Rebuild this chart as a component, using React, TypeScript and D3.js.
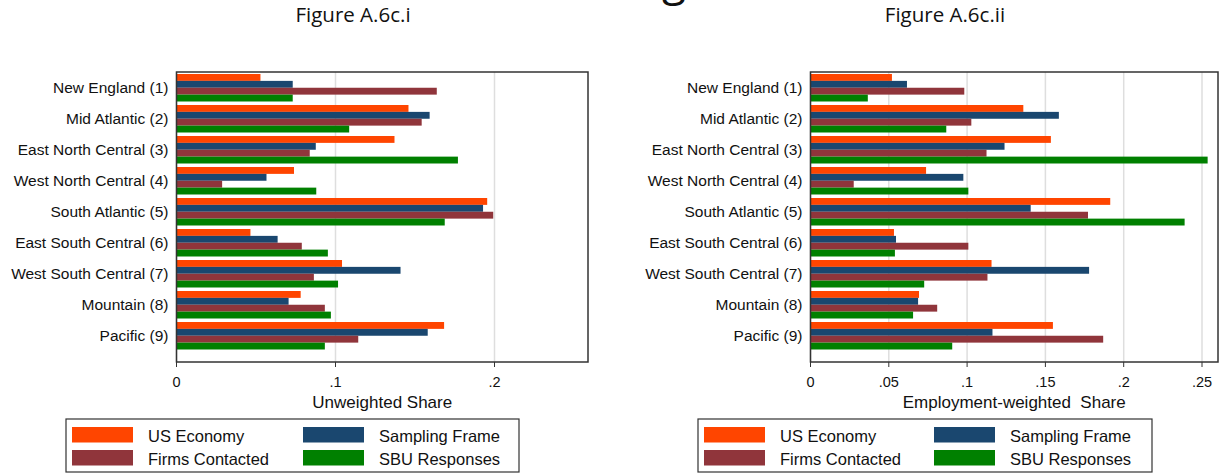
import React from "react";
import * as d3 from "d3";

const categories = [
  "New England (1)",
  "Mid Atlantic (2)",
  "East North Central (3)",
  "West North Central (4)",
  "South Atlantic (5)",
  "East South Central (6)",
  "West South Central (7)",
  "Mountain (8)",
  "Pacific (9)",
];
const seriesNames = ["US Economy", "Sampling Frame", "Firms Contacted", "SBU Responses"];
const seriesColors = ["#ff4500", "#1a476f", "#90353b", "#008000"];

// Unweighted share (left panel)
const unwUS = [0.0528, 0.1459, 0.1371, 0.0739, 0.1954, 0.0465, 0.1041, 0.0781, 0.1683];
const unwFrame = [0.0731, 0.1592, 0.0876, 0.0566, 0.1928, 0.0636, 0.1409, 0.0705, 0.158];
const unwContacted = [0.1637, 0.1542, 0.0838, 0.0287, 0.1992, 0.0788, 0.0864, 0.0933, 0.1143];
const unwSBU = [0.0731, 0.1086, 0.177, 0.0879, 0.1687, 0.0952, 0.1016, 0.0971, 0.0933];

// Employment-weighted share (right panel)
const empUS = [0.052, 0.1359, 0.1535, 0.0738, 0.1914, 0.0533, 0.1156, 0.0693, 0.1548];
const empFrame = [0.0616, 0.1586, 0.1239, 0.0976, 0.1406, 0.0546, 0.1779, 0.0687, 0.1162];
const empContacted = [0.0982, 0.1027, 0.1124, 0.0276, 0.1772, 0.1008, 0.113, 0.0809, 0.1869];
const empSBU = [0.0366, 0.0867, 0.2536, 0.1008, 0.2389, 0.0539, 0.0726, 0.0655, 0.0905];

const leftTicks = [0, 0.1, 0.2];
const leftTickLabels = ["0", ".1", ".2"];
const rightTicks = [0, 0.05, 0.1, 0.15, 0.2, 0.25];
const rightTickLabels = ["0", ".05", ".1", ".15", ".2", ".25"];

const FONT = "'Liberation Sans', Arial, sans-serif";

type PanelProps = {
  x0: number;
  x1: number;
  xMax: number;
  series: number[][];
  ticks: number[];
  tickLabels: string[];
  title: string;
  titleX: number;
  axisTitle: string;
  legendX: number;
  legendW: number;
  legendCol2: number;
};

function Panel(p: PanelProps) {
  const top = 72;
  const bottom = 362;
  const x = d3.scaleLinear().domain([0, p.xMax]).range([p.x0, p.x1]);
  const pi = 0.113;
  const y = d3
    .scaleBand<string>()
    .domain(categories)
    .range([72.25, 351.25])
    .paddingInner(pi)
    .paddingOuter(pi / 2);
  const inner = d3
    .scaleBand<string>()
    .domain(seriesNames)
    .range([0, y.bandwidth()])
    .padding(0);
  const cx = (p.x0 + p.x1) / 2;
  const ly = 419;
  return (
    <g>
      <text x={p.titleX} y={22} fontSize={20.5} fontFamily="'Open Sans', sans-serif" textAnchor="middle" fill="#111">
        {p.title}
      </text>
      {p.ticks.map((t, i) => (
        <line key={"g" + i} x1={x(t)} x2={x(t)} y1={top} y2={bottom} stroke="#dedede" strokeWidth={1.5} />
      ))}
      {categories.map((c, ci) =>
        p.series.map((s, si) => (
          <rect
            key={c + si}
            x={x(0)}
            y={(y(c) as number) + (inner(seriesNames[si]) as number)}
            width={x(s[ci]) - x(0)}
            height={inner.bandwidth()}
            fill={seriesColors[si]}
          />
        ))
      )}
      <rect x={p.x0} y={top} width={p.x1 - p.x0} height={bottom - top} fill="none" stroke="#333" strokeWidth={1.5} />
      {categories.map((c) => (
        <text
          key={"l" + c}
          x={p.x0 - 8}
          y={(y(c) as number) + y.bandwidth() / 2}
          dy="0.36em"
          textAnchor="end"
          fontSize={15.5}
          fontFamily={FONT}
          fill="#111"
        >
          {c}
        </text>
      ))}
      {p.ticks.map((t, i) => (
        <g key={"t" + i}>
          <line x1={x(t)} x2={x(t)} y1={bottom} y2={bottom + 5} stroke="#333" strokeWidth={1} />
          <text x={x(t)} y={387} textAnchor="middle" fontSize={14.5} fontFamily={FONT} fill="#111">
            {p.tickLabels[i]}
          </text>
        </g>
      ))}
      <text x={cx} y={408} textAnchor="middle" fontSize={17} fontFamily={FONT} fill="#111" style={{ whiteSpace: "pre" }}>
        {p.axisTitle}
      </text>
      <rect x={p.legendX} y={ly} width={p.legendW} height={53} fill="#fff" stroke="#333" strokeWidth={1.2} />
      {seriesNames.map((n, i) => {
        const col = i === 0 || i === 2 ? 0 : 1;
        const row = i < 2 ? 0 : 1;
        const sx = p.legendX + 6 + col * p.legendCol2;
        const sy = ly + 8 + row * 23;
        return (
          <g key={"lg" + i}>
            <rect x={sx} y={sy} width={61} height={15.5} fill={seriesColors[i]} />
            <text x={sx + 76} y={sy + 14.5} fontSize={16.5} fontFamily={FONT} fill="#111">
              {n}
            </text>
          </g>
        );
      })}
    </g>
  );
}

export default function App() {
  return (
    <svg width={1221} height={474} style={{ position: "absolute", left: 0, top: 0, background: "#fff" }}>
      <rect x={0} y={0} width={1221} height={474} fill="#fff" />
      <text x={662} y={-5} fontSize={44} fontFamily="'Open Sans', sans-serif" fill="#111">
        g
      </text>
      <Panel
        x0={176.5}
        x1={588}
        xMax={(588 - 176.5) / 1590}
        series={[unwUS, unwFrame, unwContacted, unwSBU]}
        ticks={leftTicks}
        tickLabels={leftTickLabels}
        title="Figure A.6c.i"
        titleX={353}
        axisTitle="Unweighted Share"
        legendX={66}
        legendW={453}
        legendCol2={231}
      />
      <Panel
        x0={810.5}
        x1={1218}
        xMax={(1218 - 810.5) / 1566}
        series={[empUS, empFrame, empContacted, empSBU]}
        ticks={rightTicks}
        tickLabels={rightTickLabels}
        title="Figure A.6c.ii"
        titleX={945}
        axisTitle="Employment-weighted  Share"
        legendX={698}
        legendW={454}
        legendCol2={230}
      />
    </svg>
  );
}
